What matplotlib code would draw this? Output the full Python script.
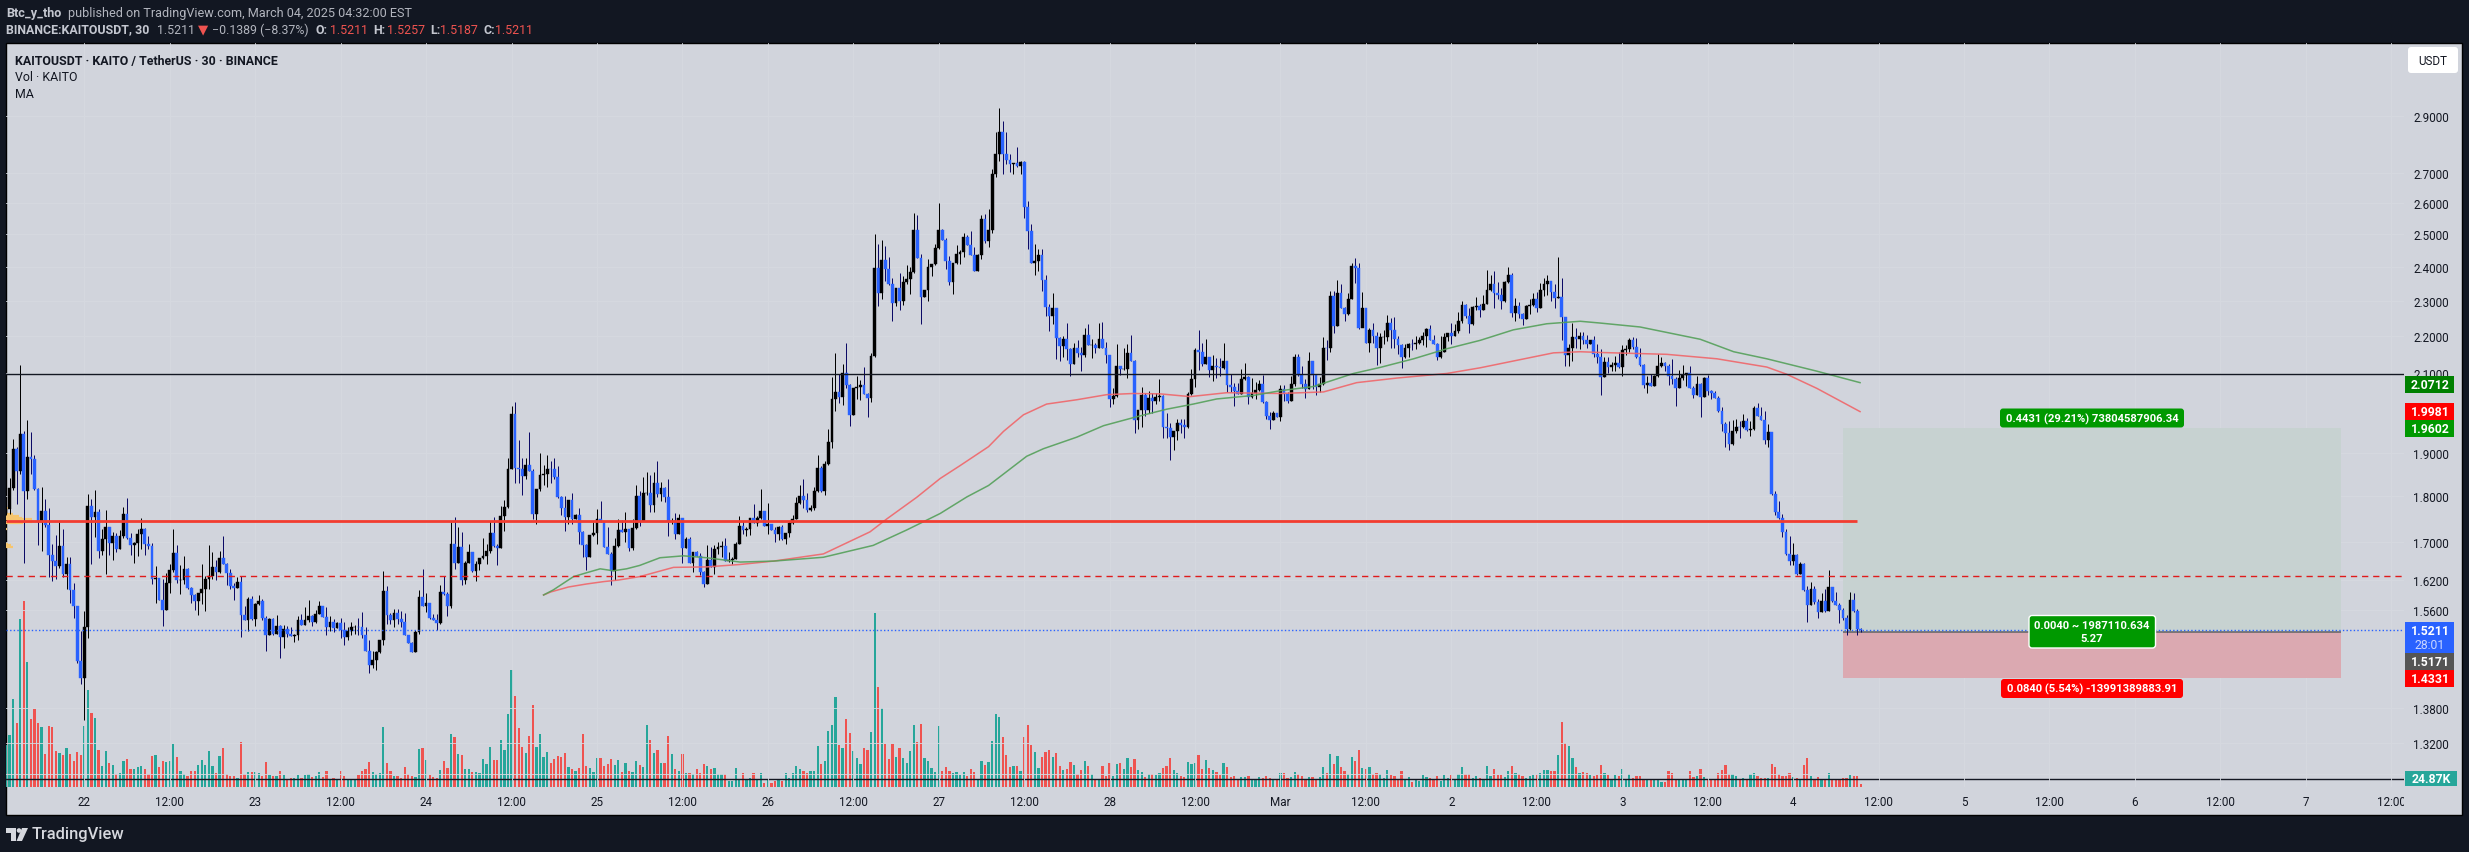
import matplotlib
matplotlib.use("Agg")
import matplotlib.pyplot as plt
from matplotlib.patches import Rectangle, FancyBboxPatch, Polygon, Circle
from matplotlib.transforms import IdentityTransform, Bbox, TransformedBbox

W, H = 2469, 853
plt.rcParams['font.family'] = ['Roboto', 'DejaVu Sans']

first_open = 1.760
closes = [
1.772,1.819,1.910,1.857,1.946,1.811,1.891,1.886,1.815,1.742,
1.767,1.735,1.671,1.660,1.648,1.690,1.633,1.654,1.600,1.568,
1.464,1.433,1.527,1.778,1.754,1.765,1.681,1.706,1.732,1.698,
1.713,1.685,1.711,1.761,1.708,1.692,1.698,1.717,1.728,1.696,
1.690,1.623,1.624,1.581,1.561,1.615,1.640,1.675,1.620,1.621,
1.642,1.604,1.589,1.579,1.593,1.601,1.623,1.629,1.646,1.637,
1.666,1.654,1.635,1.609,1.604,1.617,1.550,1.540,1.583,1.542,
1.573,1.579,1.544,1.512,1.542,1.515,1.530,1.508,1.523,1.514,
1.510,1.512,1.540,1.532,1.540,1.548,1.538,1.552,1.568,1.546,
1.527,1.538,1.526,1.536,1.521,1.508,1.520,1.528,1.528,1.527,
1.512,1.482,1.456,1.465,1.480,1.502,1.597,1.551,1.541,1.555,
1.543,1.538,1.512,1.497,1.480,1.517,1.585,1.569,1.575,1.545,
1.541,1.536,1.595,1.591,1.569,1.694,1.655,1.688,1.621,1.655,
1.677,1.638,1.652,1.666,1.669,1.680,1.718,1.690,1.686,1.755,
1.775,1.863,1.995,1.865,1.861,1.846,1.872,1.858,1.759,1.817,
1.849,1.851,1.863,1.861,1.844,1.797,1.773,1.753,1.791,1.748,
1.757,1.720,1.692,1.668,1.714,1.718,1.750,1.742,1.688,1.673,
1.638,1.690,1.724,1.720,1.727,1.686,1.729,1.799,
1.745,1.806,1.806,1.780,1.829,1.804,1.818,1.797,1.745,1.745,
1.716,1.752,1.686,1.705,1.655,1.677,1.669,1.637,1.613,1.661,
1.647,1.684,1.688,1.690,1.659,1.661,1.663,1.696,1.733,1.724,
1.727,1.752,1.741,1.752,1.766,1.733,1.737,1.724,1.716,1.731,
1.705,1.718,1.741,1.750,1.784,1.801,1.792,1.768,1.773,1.811,
1.864,1.811,1.873,1.925,2.033,2.051,2.038,2.100,2.069,1.992,
2.061,2.063,2.069,2.046,2.036,2.146,2.397,2.323,2.421,2.394,
2.349,2.292,2.335,2.300,2.353,2.362,2.385,2.512,2.427,2.309,
2.332,2.400,2.409,2.458,2.512,2.481,2.418,2.353,2.412,2.439,
2.443,2.492,2.465,2.434,2.388,2.434,2.549,2.479,2.513,2.696,
2.764,2.841,2.764,2.743,2.730,2.732,2.723,2.737,2.587,2.510,
2.412,2.417,2.434,2.359,2.281,2.255,2.278,2.194,2.172,2.191,
2.164,2.125,2.166,2.153,2.147,2.202,2.175,2.175,2.166,2.191,
2.166,2.147,2.032,2.040,2.120,2.110,2.112,2.153,2.133,1.980,
2.005,2.043,2.005,2.035,2.027,2.038,2.040,1.963,1.960,1.938,
1.953,1.973,1.968,1.963,2.045,2.084,2.161,2.155,2.123,2.143,
2.107,2.120,2.115,2.114,2.131,2.068,2.063,2.053,2.045,2.084,
2.089,2.038,2.048,2.056,2.071,2.025,1.990,1.980,1.997,1.988,
2.059,2.046,2.027,2.071,2.144,2.096,2.071,2.058,2.131,2.095,
2.063,2.071,2.168,2.167,2.314,2.229,2.323,2.279,2.262,2.305,
2.402,2.396,2.223,2.279,2.182,2.217,2.201,2.166,2.196,2.198,
2.236,2.217,2.193,2.175,2.142,2.168,2.179,2.178,2.182,2.188,
2.201,2.220,2.190,2.179,2.144,2.157,2.196,2.207,2.199,2.215,
2.242,2.288,2.256,2.233,2.282,2.283,2.273,2.291,2.332,2.347,
2.323,2.317,2.299,2.355,2.375,2.264,2.285,2.262,2.248,2.285,
2.287,2.305,2.279,2.332,2.347,2.358,2.326,2.308,2.310,2.253,
2.147,2.168,2.196,2.192,2.201,2.188,2.179,2.190,2.150,2.142,
2.091,2.130,2.117,2.122,2.127,2.117,2.163,2.164,2.189,2.170,
2.144,2.122,2.070,2.075,2.067,2.093,2.119,2.127,2.119,2.093,
2.085,2.060,2.088,2.096,2.101,2.062,2.044,2.072,2.039,2.088,
2.054,2.049,2.036,2.003,1.971,1.948,1.922,1.953,1.963,1.962,
1.977,1.955,1.957,2.010,1.990,1.980,1.931,1.950,1.805,1.765,
1.752,1.721,1.673,1.660,1.671,1.633,1.654,1.599,1.571,1.601,
1.577,1.557,1.579,1.559,1.606,1.579,1.571,1.561,1.544,1.523,
1.581,1.559,1.523,1.5211,
]
highs = [
1.787,1.842,1.934,1.914,2.121,1.952,1.980,1.951,1.895,1.818,
1.821,1.794,1.774,1.696,1.715,1.743,1.728,1.668,1.668,1.615,
1.569,1.519,1.558,1.805,1.794,1.814,1.772,1.728,1.769,1.732,
1.721,1.719,1.726,1.775,1.796,1.719,1.700,1.728,1.752,1.730,
1.713,1.698,1.648,1.625,1.623,1.634,1.652,1.728,1.692,1.651,
1.670,1.645,1.606,1.591,1.594,1.652,1.629,1.692,1.679,1.662,
1.681,1.711,1.656,1.642,1.615,1.627,1.629,1.568,1.585,1.587,
1.575,1.589,1.583,1.548,1.544,1.544,1.550,1.532,1.532,1.530,
1.527,1.515,1.548,1.552,1.566,1.581,1.550,1.561,1.579,1.568,
1.567,1.549,1.543,1.538,1.545,1.538,1.528,1.538,1.532,1.545,
1.557,1.527,1.502,1.482,1.482,1.502,1.639,1.609,1.555,1.563,
1.563,1.559,1.555,1.513,1.499,1.521,1.599,1.642,1.593,1.573,
1.553,1.553,1.611,1.628,1.595,1.742,1.753,1.731,1.720,1.660,
1.696,1.677,1.660,1.666,1.707,1.696,1.744,1.753,1.694,1.777,
1.791,1.889,2.014,2.025,1.930,1.889,1.889,1.951,1.863,1.817,
1.900,1.872,1.896,1.882,1.889,1.870,1.801,1.801,1.791,1.806,
1.759,1.773,1.722,1.694,1.714,1.742,1.771,1.789,1.739,1.731,
1.677,1.707,1.750,1.746,1.764,1.727,1.748,1.826,
1.811,1.843,1.855,1.847,1.855,1.880,1.831,1.820,1.838,1.752,
1.763,1.761,1.752,1.709,1.709,1.677,1.680,1.675,1.639,1.692,
1.688,1.692,1.699,1.701,1.707,1.677,1.667,1.699,1.755,1.744,
1.731,1.752,1.782,1.755,1.815,1.766,1.784,1.737,1.731,1.733,
1.735,1.718,1.744,1.757,1.797,1.825,1.838,1.806,1.779,1.820,
1.896,1.869,1.880,1.959,2.090,2.153,2.098,2.124,2.181,2.071,
2.061,2.092,2.082,2.116,2.048,2.153,2.499,2.468,2.480,2.464,
2.430,2.367,2.335,2.380,2.373,2.406,2.400,2.567,2.561,2.439,
2.332,2.424,2.409,2.470,2.600,2.515,2.487,2.433,2.412,2.466,
2.450,2.503,2.498,2.510,2.459,2.437,2.560,2.562,2.581,2.713,
2.841,2.928,2.879,2.841,2.764,2.733,2.789,2.740,2.740,2.607,
2.533,2.470,2.455,2.455,2.374,2.289,2.323,2.278,2.197,2.200,
2.237,2.166,2.180,2.188,2.169,2.221,2.232,2.191,2.180,2.237,
2.240,2.183,2.149,2.060,2.177,2.120,2.168,2.177,2.204,2.136,
2.005,2.065,2.048,2.053,2.048,2.048,2.084,2.043,1.998,1.973,
1.953,1.983,1.983,1.983,2.050,2.110,2.166,2.216,2.180,2.191,
2.143,2.147,2.141,2.141,2.180,2.133,2.097,2.073,2.073,2.112,
2.128,2.092,2.087,2.076,2.081,2.095,2.027,2.000,2.002,1.997,
2.069,2.069,2.052,2.092,2.150,2.150,2.120,2.084,2.155,2.131,
2.084,2.090,2.196,2.190,2.329,2.329,2.361,2.348,2.282,2.323,
2.411,2.426,2.411,2.326,2.279,2.223,2.236,2.212,2.209,2.217,
2.260,2.249,2.252,2.199,2.179,2.179,2.181,2.193,2.199,2.196,
2.212,2.223,2.231,2.204,2.182,2.199,2.207,2.209,2.236,2.233,
2.268,2.300,2.291,2.279,2.285,2.311,2.291,2.317,2.390,2.374,
2.387,2.355,2.335,2.358,2.399,2.381,2.308,2.296,2.264,2.288,
2.303,2.323,2.326,2.352,2.367,2.374,2.358,2.347,2.430,2.367,
2.253,2.179,2.236,2.223,2.212,2.212,2.204,2.190,2.201,2.179,
2.165,2.144,2.143,2.130,2.146,2.155,2.176,2.176,2.195,2.198,
2.195,2.168,2.125,2.093,2.098,2.096,2.151,2.144,2.130,2.125,
2.137,2.091,2.109,2.122,2.101,2.119,2.067,2.093,2.074,2.091,
2.096,2.057,2.054,2.040,2.013,1.975,1.977,1.980,1.983,1.977,
1.995,1.985,1.977,2.015,2.023,2.013,2.003,1.971,1.950,1.812,
1.789,1.761,1.728,1.713,1.698,1.673,1.658,1.656,1.609,1.617,
1.609,1.583,1.593,1.601,1.640,1.607,1.595,1.575,1.565,1.550,
1.595,1.593,1.563,1.5257,
]
lows = [
1.757,1.761,1.813,1.783,1.851,1.656,1.794,1.851,1.813,1.692,
1.680,1.731,1.626,1.618,1.623,1.644,1.627,1.601,1.575,1.544,
1.460,1.422,1.360,1.506,1.654,1.710,1.666,1.671,1.632,1.671,
1.662,1.679,1.685,1.708,1.706,1.672,1.656,1.670,1.685,1.671,
1.685,1.613,1.575,1.581,1.529,1.561,1.593,1.636,1.615,1.591,
1.613,1.602,1.575,1.561,1.550,1.573,1.558,1.602,1.623,1.620,
1.635,1.652,1.611,1.601,1.581,1.604,1.508,1.540,1.519,1.540,
1.530,1.571,1.540,1.483,1.512,1.512,1.515,1.469,1.487,1.508,
1.510,1.499,1.503,1.532,1.532,1.538,1.529,1.536,1.552,1.546,
1.513,1.520,1.517,1.526,1.506,1.493,1.502,1.512,1.515,1.513,
1.506,1.482,1.441,1.450,1.448,1.478,1.494,1.534,1.534,1.527,
1.534,1.527,1.512,1.497,1.480,1.480,1.515,1.569,1.557,1.543,
1.541,1.521,1.534,1.589,1.549,1.565,1.642,1.655,1.611,1.613,
1.655,1.636,1.618,1.640,1.664,1.652,1.675,1.688,1.650,1.686,
1.722,1.773,1.861,1.829,1.830,1.803,1.839,1.858,1.748,1.737,
1.812,1.824,1.821,1.829,1.839,1.795,1.757,1.722,1.739,1.739,
1.748,1.694,1.668,1.640,1.668,1.712,1.696,1.742,1.688,1.673,
1.611,1.621,1.688,1.720,1.699,1.681,1.683,1.727,
1.733,1.745,1.803,1.764,1.764,1.797,1.788,1.786,1.712,1.739,
1.705,1.716,1.655,1.686,1.655,1.637,1.669,1.631,1.607,1.613,
1.647,1.633,1.674,1.667,1.659,1.657,1.653,1.663,1.694,1.716,
1.712,1.714,1.741,1.733,1.750,1.733,1.716,1.724,1.699,1.703,
1.703,1.696,1.709,1.737,1.748,1.782,1.773,1.764,1.766,1.768,
1.809,1.809,1.802,1.871,1.912,2.003,2.023,2.018,2.061,1.966,
1.992,2.033,2.031,2.046,1.988,2.026,2.143,2.285,2.304,2.358,
2.346,2.243,2.284,2.272,2.287,2.349,2.318,2.382,2.427,2.233,
2.309,2.298,2.373,2.406,2.455,2.481,2.394,2.344,2.320,2.409,
2.409,2.430,2.465,2.434,2.388,2.388,2.424,2.473,2.461,2.504,
2.686,2.740,2.696,2.730,2.703,2.696,2.720,2.696,2.552,2.452,
2.412,2.374,2.388,2.327,2.255,2.213,2.233,2.138,2.133,2.143,
2.136,2.092,2.125,2.143,2.105,2.143,2.175,2.141,2.153,2.166,
2.166,2.128,2.012,2.020,2.037,2.095,2.107,2.087,2.133,1.948,
1.958,1.963,1.990,1.997,1.997,2.020,2.027,1.936,1.936,1.883,
1.907,1.931,1.948,1.936,1.960,2.043,2.063,2.107,2.120,2.123,
2.089,2.079,2.087,2.092,2.112,2.050,2.050,2.015,2.045,2.045,
2.081,2.020,2.035,2.032,2.053,2.022,1.983,1.958,1.980,1.988,
1.978,2.028,2.022,2.027,2.067,2.093,2.061,2.035,2.058,2.058,
2.042,2.052,2.068,2.136,2.156,2.207,2.229,2.279,2.242,2.260,
2.303,2.352,2.220,2.226,2.182,2.155,2.182,2.121,2.126,2.177,
2.185,2.166,2.166,2.150,2.113,2.139,2.144,2.161,2.164,2.177,
2.175,2.169,2.190,2.179,2.134,2.139,2.155,2.185,2.179,2.199,
2.209,2.236,2.250,2.209,2.231,2.273,2.253,2.273,2.291,2.329,
2.279,2.305,2.276,2.296,2.352,2.253,2.242,2.250,2.231,2.248,
2.262,2.285,2.267,2.279,2.314,2.316,2.299,2.280,2.308,2.190,
2.119,2.120,2.131,2.168,2.164,2.179,2.168,2.179,2.144,2.128,
2.042,2.091,2.099,2.106,2.106,2.114,2.093,2.149,2.157,2.165,
2.141,2.119,2.060,2.047,2.067,2.067,2.091,2.117,2.106,2.070,
2.072,2.016,2.060,2.083,2.067,2.062,2.036,2.044,1.988,2.039,
2.044,2.034,2.036,2.001,1.954,1.915,1.908,1.920,1.949,1.936,
1.960,1.953,1.941,1.955,1.990,1.980,1.922,1.915,1.803,1.757,
1.750,1.710,1.671,1.650,1.650,1.631,1.633,1.597,1.537,1.571,
1.573,1.544,1.557,1.557,1.559,1.577,1.571,1.535,1.540,1.512,
1.521,1.557,1.512,1.5187,
]
volumes_k = [
123,153,260,189,496,550,369,200,230,190,
177,97,180,177,106,100,94,114,97,76,
103,94,180,286,218,203,109,61,106,70,
64,38,40,76,82,52,52,58,61,52,
38,91,94,58,76,73,76,126,88,46,
38,32,46,46,64,79,64,106,61,40,
91,114,38,32,32,26,132,38,43,43,
43,40,32,73,35,32,32,46,35,20,
26,26,35,26,35,38,29,32,43,29,
46,23,26,23,46,32,23,23,20,35,
46,52,73,43,38,40,177,70,46,32,
32,26,58,38,32,29,112,114,79,35,
29,26,49,76,55,156,147,97,94,52,
52,43,43,40,82,67,117,79,79,138,
109,215,345,268,174,117,100,150,242,117,
156,88,103,70,82,91,88,100,58,52,
46,55,156,61,55,43,85,85,61,67,
82,64,79,43,70,46,43,76,
64,60,183,138,102,110,72,72,150,97,
52,47,97,42,42,38,52,42,67,62,
52,57,38,38,38,18,18,57,23,42,
23,28,42,23,42,13,23,13,18,23,
18,42,28,42,62,52,47,42,47,47,121,
67,76,165,183,265,123,114,200,159,106,
85,67,114,109,162,514,295,233,126,82,
126,88,114,85,70,106,183,132,186,85,
76,55,43,180,46,58,46,40,43,35,
43,32,52,43,23,76,64,73,135,215,
206,147,94,58,61,61,46,147,183,123,
103,55,88,103,109,88,100,61,49,52,
73,64,38,49,76,61,38,23,20,61,
32,70,32,67,70,52,85,58,82,49,
43,29,38,38,35,40,55,61,85,49,
40,32,29,73,67,70,94,52,79,55,
49,43,35,70,58,29,32,20,29,29,
32,23,20,29,26,32,26,20,20,40,
40,26,29,43,38,32,23,29,29,20,
29,58,40,97,67,91,58,46,38,88,
76,109,55,52,58,38,40,38,26,49,
35,32,23,46,23,29,14,20,17,35,
29,26,20,32,17,35,26,35,23,38,
58,38,38,26,32,26,20,61,32,52,
35,35,29,46,61,40,38,32,26,32,
35,35,40,49,49,46,46,94,191,129,
120,85,58,40,43,40,35,32,35,64,
40,35,20,35,32,52,20,38,26,32,
34,22,25,20,22,25,16,16,46,40,
22,22,20,22,46,31,34,54,31,22,
22,22,42,49,66,38,38,34,22,26,
22,38,42,34,28,26,26,69,58,38,
34,34,42,31,28,22,66,87,34,22,
31,22,22,40,22,22,25,26,28,36,
34,34,8,
]

ma_red_bars = [151,153,158,163,168,172,178,187.5,196.8,206.2,215.6,229.6,242.7,247.4,255.8,262.4,268,276,280.2,285.8,292.3,300.8,309.2,316.7,324.2,332.6,342.9,357.9,370.1,379.4,390.7,404.7,414.1,423.4,434.7,442.2,447.8,466.5,480.6,494.6,500.2,508.7,520.8]
ma_red_vals = [1.590,1.596,1.606,1.612,1.617,1.620,1.627,1.646,1.647,1.652,1.659,1.674,1.721,1.749,1.797,1.840,1.870,1.915,1.952,1.993,2.020,2.031,2.044,2.047,2.046,2.039,2.049,2.047,2.051,2.075,2.087,2.099,2.114,2.132,2.154,2.157,2.155,2.150,2.138,2.116,2.097,2.060,2.001]
ma_green_bars = [151,153.7,159.4,163.1,166.9,170.6,174.3,178,183.7,190.3,196.8,206.2,215.6,229.6,243.6,253,262.4,269.9,276,286.7,291.4,300.8,308.3,316.7,326,333.5,340.1,350.4,357.9,367.3,378.5,386,395.4,404.7,414.1,423.4,432.8,442.2,447.8,459,475.9,485.3,494.6,508.7,520.8]
ma_green_vals = [1.590,1.600,1.627,1.635,1.643,1.639,1.643,1.650,1.666,1.670,1.666,1.657,1.659,1.667,1.692,1.725,1.761,1.798,1.824,1.892,1.910,1.938,1.966,1.986,2.007,2.020,2.033,2.042,2.054,2.065,2.099,2.115,2.138,2.165,2.188,2.217,2.234,2.241,2.236,2.225,2.191,2.157,2.138,2.105,2.075]

profile_prices = [1.774,1.761,1.756,1.751,1.748,1.743,1.740,1.728,1.696,1.692,1.689]
profile_bars = [0.5,1.9,3.7,4.5,7.3,7.3,4.7,0.3,0.5,1.4,2.1]

level_black = 2.0968
level_red = 1.7444
level_dash = 1.6275
last_price = 1.5211
target_price, entry_price, stop_price = 1.9602, 1.5171, 1.4331
vol_ma = 24.87
price_ticks = [2.9,2.7,2.6,2.5,2.4,2.3,2.2,2.1,1.9,1.8,1.7,1.62,1.56,1.38,1.32,1.27]
time_labels = ["22","12:00","23","12:00","24","12:00","25","12:00","26","12:00","27","12:00","28","12:00",
               "Mar","12:00","2","12:00","3","12:00","4","12:00","5","12:00","6","12:00","7","12:00"]
day0_bar = 22
bars_per_label = 24
position_start_bar, position_end_bar = 516, 656
red_line_end_bar = 520

BG = '#d1d4dc'
DARK = '#121722'
UP, DOWN = '#000000', '#2962ff'
WICK_UP, WICK_DOWN = '#000000', '#0c0a66'
V_UP, V_DOWN = '#26a69a', '#ef5350'

fig = plt.figure(figsize=(W/100, H/100), dpi=100, facecolor=DARK)
ident = IdentityTransform()

def box(x0, y0, x1, y1, color, round_px=0, z=5, ec='none', lw=0):
    if round_px:
        p = FancyBboxPatch((x0, H-y1), x1-x0, y1-y0, boxstyle=f"round,pad=0,rounding_size={round_px}",
                           transform=ident, fc=color, ec=ec, lw=lw, zorder=z)
    else:
        p = Rectangle((x0, H-y1), x1-x0, y1-y0, transform=ident, fc=color, ec=ec, lw=lw, zorder=z)
    fig.add_artist(p)

def txt(x, y, s, color='#131722', size=8.4, weight='normal', ha='left', z=6, family=None):
    kw = {'family': family} if family else {}
    fig.text(x/W, 1-y/H, s, color=color, fontsize=size, fontweight=weight, ha=ha, va='center', zorder=z, **kw)

box(6, 44, 2462, 816, BG, z=-2, ec='#000000', lw=1)

axpos = [6/W, 1-788/H, (2404-6)/W, (788-44)/H]
axv = fig.add_axes(axpos, zorder=1)
ax = fig.add_axes(axpos, zorder=2)
axv.set_facecolor('none')
ax.set_facecolor('none')

n = len(closes)
idx = list(range(n))
opens = [first_open] + closes[:-1]
is_up = [c >= o for o, c in zip(opens, closes)]
xmax = (2404-6)/3.56

# volume
axv.bar(idx, volumes_k, width=0.62, color=[V_UP if u else V_DOWN for u in is_up], linewidth=0)
axv.set_xlim(0, xmax)
axv.set_ylim(0, 744*2.96)
axv.axhline(vol_ma, color='#131722', lw=1.0, zorder=5)
axv.axis('off')

# price
ax.set_yscale('log')
ax.set_ylim(1.2498, 3.1766)
ax.set_xlim(0, xmax)
ticks_x = [day0_bar + k*bars_per_label for k in range(len(time_labels))]
ax.grid(True, color='#d6d9e0', lw=0.6, zorder=0)
ax.set_axisbelow(True)

ax.axhspan(entry_price, target_price, xmin=position_start_bar/xmax, xmax=position_end_bar/xmax, color='#c7d2d1', lw=0, zorder=1)
ax.axhspan(stop_price, entry_price, xmin=position_start_bar/xmax, xmax=position_end_bar/xmax, color='#dba9b1', lw=0, zorder=1)
ax.hlines(entry_price, position_start_bar, position_end_bar, color='#6a6a6a', lw=1.2, zorder=2)

ax.hlines(profile_prices, 0, profile_bars, color='#f6c56f', lw=1.6, zorder=2)

ax.vlines(idx, lows, highs, colors=[WICK_UP if u else WICK_DOWN for u in is_up], lw=0.72, zorder=3)
ax.bar(idx, [abs(c-o) for o, c in zip(opens, closes)], bottom=[min(o, c) for o, c in zip(opens, closes)],
       width=0.78, color=[UP if u else DOWN for u in is_up], edgecolor=[UP if u else DOWN for u in is_up],
       linewidth=0.3, zorder=4)

ax.plot(ma_red_bars, ma_red_vals, color='#f0666a', lw=1.1, alpha=0.9, zorder=5)
ax.plot(ma_green_bars, ma_green_vals, color='#55a05a', lw=1.1, alpha=0.9, zorder=5)

ax.axhline(level_black, color='#131722', lw=1.0, zorder=6)
ax.hlines(level_red, 0, red_line_end_bar, color='#f23c30', lw=2.0, zorder=6)
ax.axhline(level_dash, color='#e01b1b', lw=1.0, dashes=(4.5, 3.5), zorder=6)
ax.axhline(last_price, color='#2962ff', lw=1.0, dashes=(1, 1.6), zorder=6)

ax.yaxis.tick_right()
ax.set_yticks(price_ticks)
ax.set_yticklabels([f"{p:.4f}" for p in price_ticks], fontsize=8.4, color='#131722')
ax.minorticks_off()
ax.tick_params(axis='y', length=0, pad=6.5)
ax.set_xticks(ticks_x)
ax.set_xticklabels(time_labels, fontsize=8.4, color='#131722')
ax.tick_params(axis='x', length=0, pad=6)
clip = TransformedBbox(Bbox([[0, 0], [2404, H]]), ident)
for lab in ax.get_xticklabels():
    lab.set_clip_box(clip)
    lab.set_clip_on(True)
for s in ax.spines.values():
    s.set_visible(False)
for s in axv.spines.values():
    s.set_visible(False)

# header
txt(6.5, 13, "Btc_y_tho", '#c4c7d0', 9.1, 'bold')
txt(68, 13, "published on TradingView.com, March 04, 2025 04:32:00 EST", '#b2b5be', 9.1)
txt(6.5, 30, "BINANCE:KAITOUSDT, 30", '#c4c7d0', 8.9, 'bold')
txt(157, 30, "1.5211", '#b2b5be', 8.9)
txt(198, 30, "\u25bc", '#ef5350', 9.5, family=['DejaVu Sans'])
txt(212, 30, "\u22120.1389 (\u22128.37%)", '#b2b5be', 8.9)
for x, s in [(315, "O:"), (373.5, "H:"), (430, "L:"), (483, "C:")]:
    txt(x, 30, s, '#c4c7d0', 8.9, 'bold')
for x, s in [(330, "1.5211"), (386.5, "1.5257"), (440, "1.5187"), (495, "1.5211")]:
    txt(x, 30, s, '#ef5350', 8.9)

# chart legend
txt(15, 61, "KAITOUSDT \u00b7 KAITO / TetherUS \u00b7 30 \u00b7 BINANCE", '#131722', 8.95, 'bold')
txt(15, 77.5, "Vol \u00b7 KAITO", '#131722', 8.95)
txt(15, 95, "MA", '#131722', 8.95)

# right scale
box(2408, 48, 2458, 74, '#ffffff', round_px=3)
txt(2433, 61.5, "USDT", '#131722', 8.4, ha='center')
WH = '#ffffff'
box(2405, 376.5, 2454, 394, '#008000')
txt(2430, 385.5, "2.0712", WH, 8.8, 'bold', ha='center')
box(2405, 404, 2454, 421, '#ff0000')
txt(2430, 412.5, "1.9981", WH, 8.8, 'bold', ha='center')
box(2405, 421, 2454, 438, '#009900')
txt(2430, 429.5, "1.9602", WH, 8.8, 'bold', ha='center')
box(2405, 623, 2454, 654, '#2962ff')
txt(2430, 631.5, "1.5211", WH, 8.8, 'bold', ha='center')
txt(2430, 645.5, "28:01", '#c9d6ff', 8.8, ha='center')
box(2405, 654, 2454, 671, '#555555')
txt(2430, 662.5, "1.5171", WH, 8.8, 'bold', ha='center')
box(2405, 671, 2454, 688, '#ff0000')
txt(2430, 679.5, "1.4331", WH, 8.8, 'bold', ha='center')
box(2405, 772, 2457, 787, '#26a69a')
txt(2431, 779.5, "24.87K", WH, 8.8, 'bold', ha='center')

# position tool labels
box(2000, 409.5, 2184, 428.5, '#009900', round_px=3)
txt(2092, 419, "0.4431 (29.21%) 73804587906.34", WH, 8.1, 'bold', ha='center')
box(2029, 616.5, 2155.5, 649, '#009900', round_px=3, ec='#ffffff', lw=1)
txt(2092, 626, "0.0040 ~ 1987110.634", WH, 8.1, 'bold', ha='center')
txt(2092, 639, "5.27", WH, 8.1, 'bold', ha='center')
box(2001, 680, 2183, 699, '#ff0000', round_px=3)
txt(2092, 689.5, "0.0840 (5.54%) -13991389883.91", WH, 8.1, 'bold', ha='center')

# TradingView mark
LOGO = '#d6d8de'
fig.add_artist(Polygon([(6, H-829), (16, H-829), (16, H-842), (11, H-842), (11, H-834), (6, H-834)],
                       closed=True, transform=ident, fc=LOGO, ec='none', zorder=6))
fig.add_artist(Circle((19, H-831.5), 2.3, transform=ident, fc=LOGO, ec='none', zorder=6))
fig.add_artist(Polygon([(22, H-829), (28, H-829), (22, H-842), (16.5, H-842)],
                       closed=True, transform=ident, fc=LOGO, ec='none', zorder=6))
txt(32, 835, "TradingView", LOGO, 11.9, 'medium')

fig.savefig("out.png", dpi=100, facecolor=DARK)
